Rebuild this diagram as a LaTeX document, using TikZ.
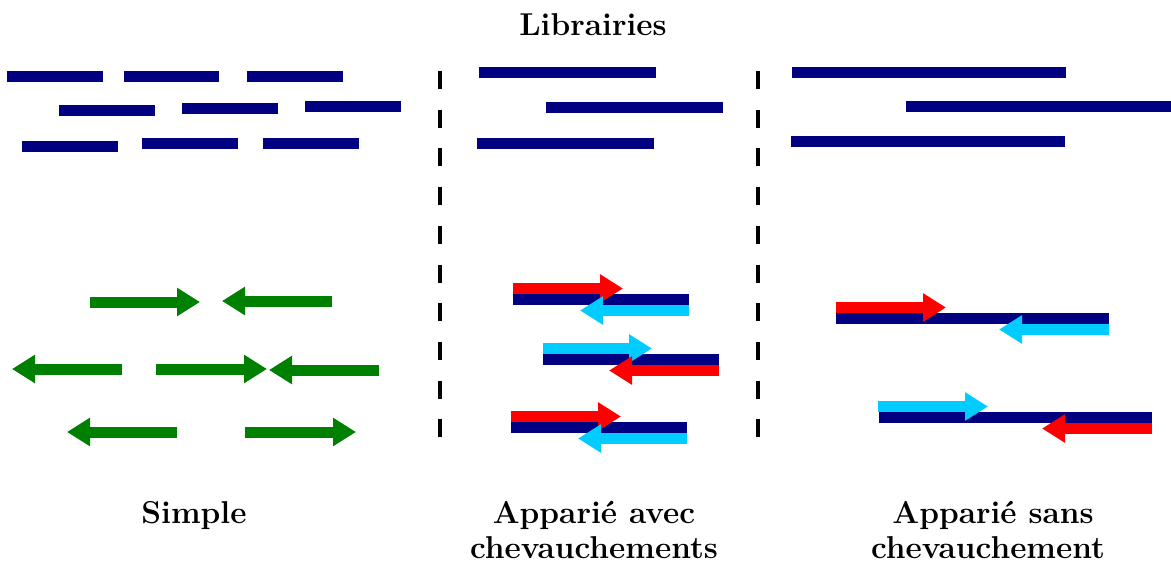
\documentclass[tikz,border=0pt]{standalone}
\usetikzlibrary{arrows.meta}
\definecolor{navyb}{RGB}{0,0,128}
\definecolor{darkg}{RGB}{0,128,0}
\definecolor{rred}{RGB}{255,0,0}
\definecolor{ccyan}{RGB}{0,204,255}
\begin{document}
\begin{tikzpicture}[x=1pt,y=-1pt,
  bar/.style={navyb,line width=11pt,line cap=butt},
  rd/.style={line width=11pt,line cap=butt,-{Triangle[length=23pt,width=27pt]}},
  garr/.style={rd,darkg},
  redarr/.style={rd,rred},
  cyarr/.style={rd,ccyan},
  sep/.style={line width=4.5pt,dash pattern=on 18pt off 20.7pt},
  lbl/.style={font=\fontsize{31.6}{38}\selectfont\bfseries,anchor=base,inner sep=0pt}]
\useasboundingbox (0,0) rectangle (1171,565);
% libraries - simple
\draw[bar] (7,76.5) -- (103,76.5);
\draw[bar] (124,76.5) -- (219,76.5);
\draw[bar] (247,76.5) -- (343,76.5);
\draw[bar] (59,110) -- (155,110);
\draw[bar] (182,108) -- (278,108);
\draw[bar] (305,106) -- (401,106);
\draw[bar] (22,146) -- (118,146);
\draw[bar] (142,143) -- (238,143);
\draw[bar] (263,143.5) -- (359,143.5);
% libraries - paired overlapping
\draw[bar] (479,72.5) -- (656,72.5);
\draw[bar] (546,107) -- (723,107);
\draw[bar] (477,143) -- (654,143);
% libraries - paired without overlap
\draw[bar] (792,72.5) -- (1066,72.5);
\draw[bar] (906,106.5) -- (1171,106.5);
\draw[bar] (791,141) -- (1065,141);
% separators
\draw[sep] (440,71) -- (440,438);
\draw[sep] (758,71) -- (758,438);
% simple reads
\draw[garr] (90,302) -- (200,302);
\draw[garr] (332,301) -- (222,301);
\draw[garr] (122,369) -- (12,369);
\draw[garr] (156,369) -- (267,369);
\draw[garr] (379,370) -- (269,370);
\draw[garr] (177,432) -- (67,432);
\draw[garr] (245,432) -- (356,432);
% paired overlapping
\draw[bar] (513,299.5) -- (689,299.5);
\draw[redarr] (513,288.5) -- (623,288.5);
\draw[cyarr] (689,310.5) -- (580,310.5);
\draw[bar] (543,359.5) -- (719,359.5);
\draw[cyarr] (543,348.5) -- (652,348.5);
\draw[redarr] (719,370.5) -- (609,370.5);
\draw[bar] (511,427.5) -- (687,427.5);
\draw[redarr] (511,416.5) -- (621,416.5);
\draw[cyarr] (687,438.5) -- (578,438.5);
% paired non overlapping
\draw[bar] (836,318.5) -- (1109,318.5);
\draw[redarr] (836,307.5) -- (946,307.5);
\draw[cyarr] (1109,329.5) -- (999,329.5);
\draw[bar] (879,417.5) -- (1152,417.5);
\draw[cyarr] (878,406.5) -- (988,406.5);
\draw[redarr] (1152,428.5) -- (1042,428.5);
% labels
\node[lbl] (title) at (593,35) {Librairies};
\node[lbl] (simple) at (194,523) {Simple};
\node[lbl] (av1) at (594,523) {Apparié avec};
\node[lbl] (av2) at (594,558) {chevauchements};
\node[lbl] (sa1) at (993,523) {Apparié sans};
\node[lbl] (sa2) at (988,558) {chevauchement};
\end{tikzpicture}
\end{document}
